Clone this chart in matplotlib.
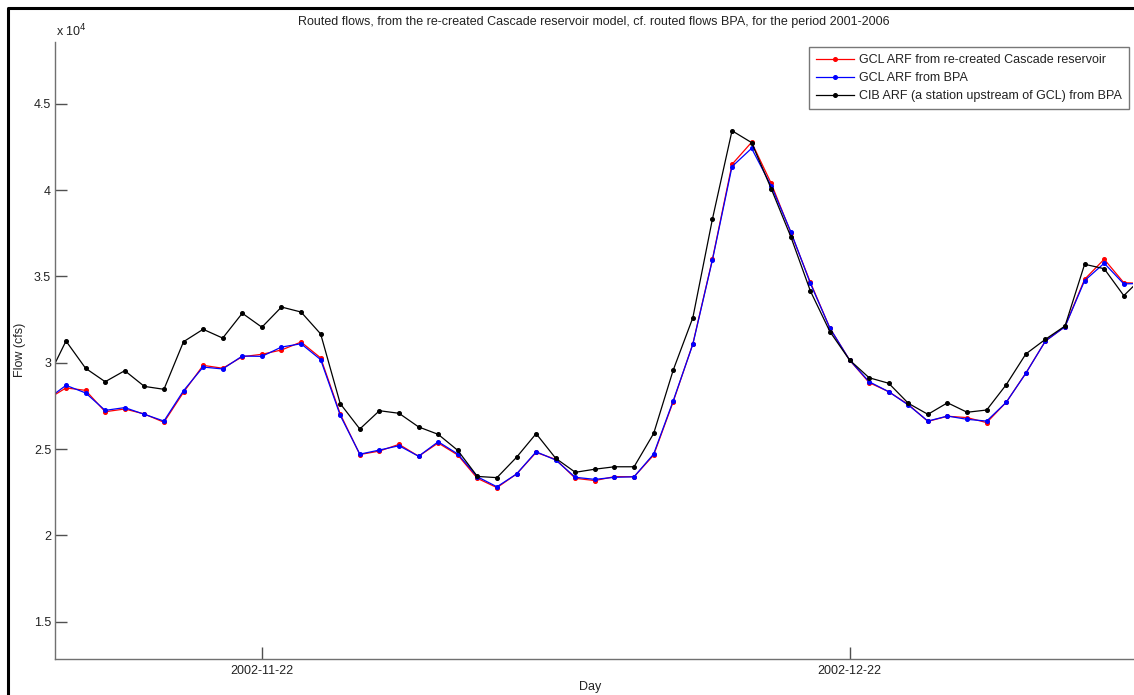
import numpy as np
import pandas as pd
import matplotlib
matplotlib.use("Agg")
import matplotlib.pyplot as plt
import matplotlib.dates as mdates
from matplotlib.lines import Line2D
from matplotlib.ticker import FuncFormatter

plt.rcParams['font.family'] = ['Liberation Sans', 'DejaVu Sans']

# daily values, 2002-11-11 .. 2003-01-05 (cfs)
days = pd.date_range('2002-11-11', periods=57, freq='D')

gcl_recreated = [27850, 28540, 28400, 27160, 27320, 27030, 26550, 28290, 29850, 29680,
                 30350, 30490, 30740, 31200, 30280, 27030, 24680, 24880, 25270, 24580,
                 25350, 24650, 23300, 22760, 23550, 24800, 24400, 23300, 23170, 23400,
                 23390, 24650, 27750, 31100, 36000, 41500, 42780, 40400, 37550, 34660,
                 32000, 30160, 28850, 28320, 27580, 26600, 26900, 26820, 26530, 27710,
                 29400, 31260, 32100, 34840, 36000, 34640, 34600]

gcl_bpa = [27850, 28690, 28250, 27240, 27400, 27010, 26620, 28380, 29750, 29640,
           30390, 30370, 30910, 31100, 30180, 26950, 24700, 24940, 25190, 24580,
           25420, 24710, 23390, 22810, 23550, 24840, 24360, 23360, 23240, 23360,
           23390, 24710, 27800, 31070, 35960, 41370, 42430, 40250, 37600, 34600,
           32000, 30160, 28900, 28320, 27550, 26620, 26910, 26720, 26620, 27710,
           29390, 31260, 32090, 34760, 35770, 34570, 34600]

cib_bpa = [28950, 31260, 29680, 28900, 29540, 28630, 28460, 31220, 31940, 31430,
           32870, 32060, 33230, 32940, 31670, 27630, 26160, 27220, 27070, 26280,
           25850, 24920, 23410, 23340, 24520, 25890, 24460, 23650, 23830, 23970,
           23970, 25900, 29580, 32610, 38330, 43450, 42760, 40090, 37310, 34160,
           31800, 30160, 29130, 28810, 27650, 27010, 27680, 27130, 27260, 28730,
           30510, 31360, 32130, 35710, 35450, 33890, 35000]

series = [
    ('GCL ARF from re-created Cascade reservoir', gcl_recreated, 'r'),
    ('GCL ARF from BPA', gcl_bpa, 'b'),
    ('CIB ARF (a station upstream of GCL) from BPA', cib_bpa, 'k'),
]

fs = 9
W, H = 1134, 695
fig = plt.figure(figsize=(W / 100, H / 100), dpi=100)
ax = fig.add_axes([55.3 / W, 1 - 659.3 / H, (1133 - 55.3) / W, (659.3 - 41.7) / H])

for label, vals, col in series:
    ax.plot(days, vals, color=col, lw=0.9, marker='o', ms=2.6, label=label)

start = pd.Timestamp('2002-11-12')
ax.set_xlim(start - pd.Timedelta(days=0.546), start + pd.Timedelta(days=54.47))
ax.set_ylim(12810, 48610)

ax.set_xticks([pd.Timestamp('2002-11-22'), pd.Timestamp('2002-12-22')])
ax.xaxis.set_major_formatter(mdates.DateFormatter('%Y-%m-%d'))
ax.set_yticks([15000, 20000, 25000, 30000, 35000, 40000, 45000])
ax.yaxis.set_major_formatter(FuncFormatter(lambda v, p: '%g' % (v / 1e4)))

for s in ['top', 'right']:
    ax.spines[s].set_visible(False)
for s in ['left', 'bottom']:
    ax.spines[s].set_color('#707070')
    ax.spines[s].set_linewidth(1.0)
ax.tick_params(direction='in', length=8.5, width=1.0, color='#505050',
               labelsize=fs, labelcolor='#222222')
ax.tick_params(axis='x', pad=4)
ax.tick_params(axis='y', pad=3)

fig.text(594 / W, 1 - 22 / H,
         'Routed flows, from the re-created Cascade reservoir model, cf. routed flows BPA, for the period 2001-2006',
         ha='center', va='center', fontsize=fs, color='#222222')
fig.text(56 / W, 1 - 31 / H, r'x 10$^4$', ha='left', va='center', fontsize=fs, color='#222222')
fig.text(20 / W, 1 - 350 / H, 'Flow (cfs)', rotation=90, ha='center', va='center',
         fontsize=fs, color='#222222')
fig.text(590 / W, 1 - 687 / H, 'Day', ha='center', va='center', fontsize=fs, color='#222222')

leg = ax.legend(loc='upper right', bbox_to_anchor=(1129 / W, 1 - 47 / H),
                bbox_transform=fig.transFigure, borderaxespad=0, fontsize=fs,
                fancybox=False, frameon=True, handlelength=3.1, handletextpad=0.4,
                labelspacing=0.5, borderpad=0.55, numpoints=1)
leg.get_frame().set_edgecolor('#555555')
leg.get_frame().set_linewidth(1.0)
for t in leg.get_texts():
    t.set_color('#222222')

# screenshot frame
fig.add_artist(Line2D([7.5 / W, 7.5 / W, 1133 / W], [0, 1 - 8.3 / H, 1 - 8.3 / H],
                      transform=fig.transFigure, color='black', lw=2.2))

fig.savefig('out.png', dpi=100)
